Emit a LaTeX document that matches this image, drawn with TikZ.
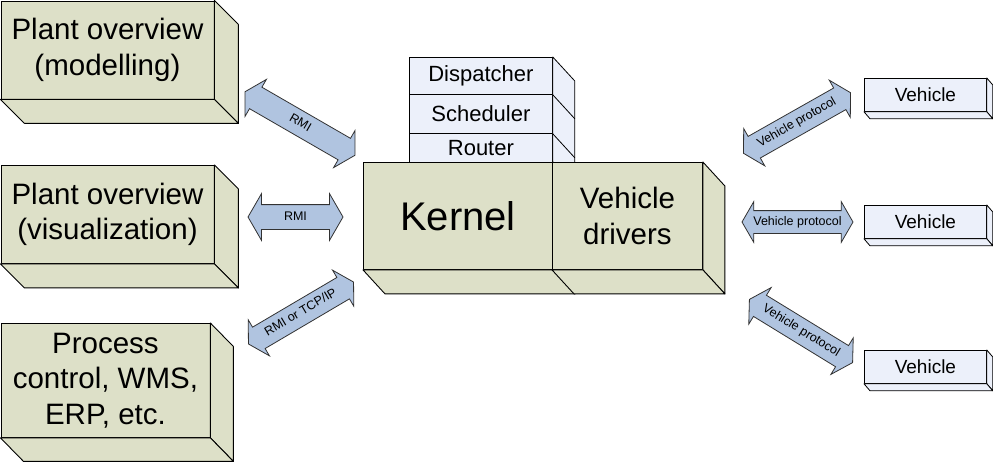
\documentclass[tikz,border=0pt]{standalone}
\usepackage{fontspec}
\setmainfont{Liberation Sans}
\usetikzlibrary{shapes.arrows}
\definecolor{boxgreen}{RGB}{221,224,200}
\definecolor{boxblue}{RGB}{236,240,250}
\definecolor{arrowblue}{RGB}{176,196,224}
\definecolor{arrowedge}{RGB}{50,50,50}
\newcommand\depthfaces[4]{%
  \draw[#4] (#1.north east) -- ([shift={(#2,#3)}]#1.north east) -- ([shift={(#2,#3)}]#1.south east) -- (#1.south east) -- cycle;
  \draw[#4] (#1.south west) -- (#1.south east) -- ([shift={(#2,#3)}]#1.south east) -- ([shift={(#2,#3)}]#1.south west) -- cycle;}
\begin{document}
\begin{tikzpicture}[x=1pt,y=-1pt,
  gface/.style={draw=black, line width=0.9pt, fill=boxgreen, line join=round},
  bface/.style={draw=black, line width=0.8pt, fill=boxblue, line join=round},
  gbox/.style={gface, inner sep=0pt, anchor=north west, align=center, font=\fontsize{29.5}{35.5}\selectfont},
  sbox/.style={bface, inner sep=0pt, anchor=north west, minimum width=143, font=\fontsize{22}{26}\selectfont},
  vbox/.style={bface, inner sep=0pt, anchor=north west, minimum width=122, minimum height=33, font=\fontsize{19}{23}\selectfont},
  arr/.style={double arrow, draw=arrowedge, fill=arrowblue, line width=0.8pt, inner xsep=0pt,
    text height=9pt, text depth=3pt, double arrow tip angle=120, font=\fontsize{12.5}{14}\selectfont}]
\useasboundingbox (0,0) rectangle (993,461);

% left boxes
\node[gbox, minimum width=213, minimum height=98] (pm) at (0.5,0.5) {Plant overview\\(modelling)};
\depthfaces{pm}{24}{24}{gface}
\node[gbox, minimum width=213, minimum height=98] (pv) at (0.5,165) {Plant overview\\(visualization)};
\depthfaces{pv}{24}{24}{gface}
\node[gbox, minimum width=209, minimum height=114] (pc) at (0.5,323) {Process\\control, WMS,\\ERP, etc.};
\depthfaces{pc}{23}{23.5}{gface}

% stack
\node[sbox, minimum height=37] (disp) at (409,57) {Dispatcher};
\node[sbox, minimum height=39] (sched) at (409,94) {Scheduler};
\node[sbox, minimum height=29] (router) at (409,133) {Router};
\draw[bface] (disp.north east) -- ([shift={(22,24)}]disp.north east) -- ([shift={(22,0)}]router.south east) -- (router.south east) -- cycle;
\draw[bface] (disp.south east) -- ([shift={(22,24)}]disp.south east);
\draw[bface] (sched.south east) -- ([shift={(22,24)}]sched.south east);

% kernel and drivers
\node[gbox, minimum width=189, minimum height=107, font=\fontsize{40}{46}\selectfont] (kernel) at (363,162) {Kernel};
\depthfaces{kernel}{22}{24}{gface}
\node[gbox, minimum width=150, minimum height=107] (drivers) at (552,162) {Vehicle\\drivers};
\depthfaces{drivers}{22}{24}{gface}

% vehicles
\node[vbox] (v1) at (864,78) {Vehicle};
\depthfaces{v1}{6}{7}{bface}
\node[vbox] (v2) at (864,205) {Vehicle};
\depthfaces{v2}{6}{7}{bface}
\node[vbox] (v3) at (864,350) {Vehicle};
\depthfaces{v3}{6}{7}{bface}

% arrows
\node[arr, minimum height=127, inner ysep=6pt, double arrow head extend=9, rotate=-30] (a1) at (300,123.5) {RMI};
\node[arr, minimum height=95, inner ysep=6pt, double arrow head extend=11, rotate=0] (a2) at (295.5,217) {RMI};
\node[arr, minimum height=122, inner ysep=6pt, double arrow head extend=8.5, rotate=30.5] (a3) at (301,313) {RMI or TCP/IP};
\node[arr, minimum height=123, inner ysep=6pt, double arrow head extend=9, rotate=29.5] (b1) at (797,123) {Vehicle protocol};
\node[arr, minimum height=111, inner ysep=5pt, double arrow head extend=9, rotate=0] (b2) at (797.5,222) {Vehicle protocol};
\node[arr, minimum height=121, inner ysep=6pt, double arrow head extend=9, rotate=-31.5] (b3) at (801,331) {Vehicle protocol};
\end{tikzpicture}
\end{document}
